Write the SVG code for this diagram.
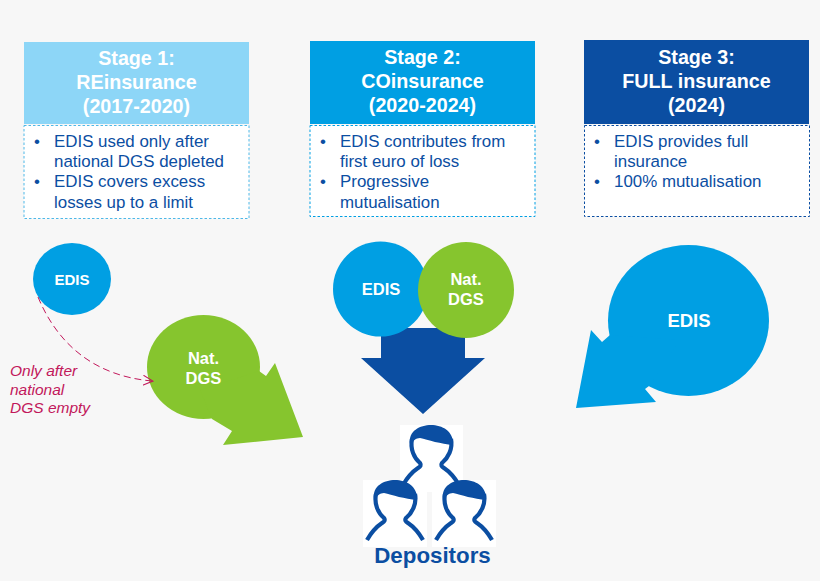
<svg xmlns="http://www.w3.org/2000/svg" width="820" height="581" viewBox="0 0 820 581">
<style>
text{font-family:"Liberation Sans",Arial,sans-serif}
.h{font-size:19.700px;font-weight:bold;fill:#fff;text-anchor:middle}
.b{font-size:16.900px;fill:#0b4ea2}
.c{font-weight:bold;fill:#fff;text-anchor:middle}
.n{font-size:15.500px;font-style:italic;fill:#c2185b}
.box{fill:#fff;stroke-width:1;stroke-dasharray:2.5 2}
.blue{fill:#009fe3}.green{fill:#86c52e}.dark{fill:#0b4ea2}
</style>
<defs>
<g id="person">
<path d="M-28,60 C-24,53 -19,47 -13,43 Q-9,41 -11,38 C-17,33 -21,24 -19,14 M28,60 C24,53 19,47 13,43 Q9,41 11,38 C17,33 22,24 20,14" fill="none" stroke="#0b4ea2" stroke-width="4.200"/>
<path d="M-21,19 C-23,6 -11,0 0,0 C11,0 23,6 22,20 C10,19 -3,15 -11,13 C-15,13 -18,16 -21,19Z" class="dark"/>
</g>
<marker id="open" markerWidth="12" markerHeight="12" refX="9" refY="5" orient="auto" markerUnits="userSpaceOnUse"><path d="M0,0L10,5L0,10" fill="none" stroke="#c2185b" stroke-width="1"/></marker>
</defs>
<rect width="820" height="581" fill="#f7f7f7"/>
<g id="stage1">
<rect x="24" y="42" width="225" height="82" fill="#8dd6f7"/>
<text class="h" x="136.500" y="65">Stage 1:</text><text class="h" x="136.500" y="89">REinsurance</text><text class="h" x="136.500" y="113">(2017-2020)</text>
<rect class="box" x="24" y="125.500" width="225" height="93" stroke="#4db8e8"/>
<text class="b" x="34" y="147">•</text><text class="b" x="54" y="147">EDIS used only after</text><text class="b" x="54" y="167">national DGS depleted</text>
<text class="b" x="34" y="187">•</text><text class="b" x="54" y="187">EDIS covers excess</text><text class="b" x="54" y="208">losses up to a limit</text>
</g>
<g id="stage2">
<rect x="310" y="41" width="225" height="83" fill="#009fe3"/>
<text class="h" x="422.500" y="64">Stage 2:</text><text class="h" x="422.500" y="88">COinsurance</text><text class="h" x="422.500" y="112">(2020-2024)</text>
<rect class="box" x="310" y="125.500" width="225" height="91" stroke="#009fe3"/>
<text class="b" x="320" y="147">•</text><text class="b" x="340" y="147">EDIS contributes from</text><text class="b" x="340" y="167">first euro of loss</text>
<text class="b" x="320" y="187">•</text><text class="b" x="340" y="187">Progressive</text><text class="b" x="340" y="208">mutualisation</text>
</g>
<g id="stage3">
<rect x="584" y="40" width="225" height="84" fill="#0b4ea2"/>
<text class="h" x="696.500" y="64">Stage 3:</text><text class="h" x="696.500" y="88">FULL insurance</text><text class="h" x="696.500" y="112">(2024)</text>
<rect class="box" x="584.500" y="125.500" width="225" height="91" stroke="#0b4ea2"/>
<text class="b" x="594" y="147">•</text><text class="b" x="614" y="147">EDIS provides full</text><text class="b" x="614" y="167">insurance</text>
<text class="b" x="594" y="187">•</text><text class="b" x="614" y="187">100% mutualisation</text>
</g>
<g id="edis1">
<ellipse class="blue" cx="72" cy="279" rx="39" ry="36"/>
<text class="c" x="72" y="285" font-size="15">EDIS</text>
</g>
<g id="dgs1">
<ellipse class="green" cx="203.500" cy="367" rx="56.500" ry="52"/>
<path class="green" d="M212,419 L232,431 L223,445 L303,437 L275,363 L266,376 L259,371 L200,390Z"/>
<text class="c" x="203.500" y="364" font-size="16.500">Nat.</text><text class="c" x="203.500" y="384" font-size="16.500">DGS</text>
</g>
<g id="connectors">
<path d="M38,297 C58,345 95,376 152,381" fill="none" stroke="#c2185b" stroke-width="1" stroke-dasharray="7 4" marker-end="url(#open)"/>
</g>
<g id="note">
<text class="n" x="10" y="376">Only after</text>
<text class="n" x="10" y="395">national</text>
<text class="n" x="10" y="413">DGS empty</text>
</g>
<g id="flow2">
<path class="dark" d="M381,328 H465 V358 H485 L423,414 L361,358 H381Z"/>
</g>
<g id="edis2">
<circle class="blue" cx="380.500" cy="289" r="47.500"/>
<text class="c" x="381" y="295" font-size="16.500">EDIS</text>
</g>
<g id="dgs2">
<circle class="green" cx="466" cy="290" r="48"/>
<text class="c" x="466" y="285" font-size="16.500">Nat.</text><text class="c" x="466" y="305" font-size="16.500">DGS</text>
</g>
<g id="edis3">
<ellipse class="blue" cx="688.500" cy="320.500" rx="80.500" ry="75.500"/>
<path class="blue" d="M649,386 L645,389 L656,402 L576,408 L591,330 L602,342 L610,335 L680,340Z"/>
<text class="c" x="689" y="327" font-size="18.500">EDIS</text>
</g>
<g id="depositors">
<rect x="400" y="425" width="63" height="67" fill="#fff"/>
<rect x="363" y="480" width="64" height="67" fill="#fff"/>
<rect x="432" y="480" width="64" height="67" fill="#fff"/>
<use href="#person" x="431" y="425"/>
<use href="#person" x="395" y="480"/>
<use href="#person" x="464" y="480"/>
<text x="432.500" y="563" font-size="22.300" font-weight="bold" fill="#0b4ea2" text-anchor="middle">Depositors</text>
</g>
</svg>
